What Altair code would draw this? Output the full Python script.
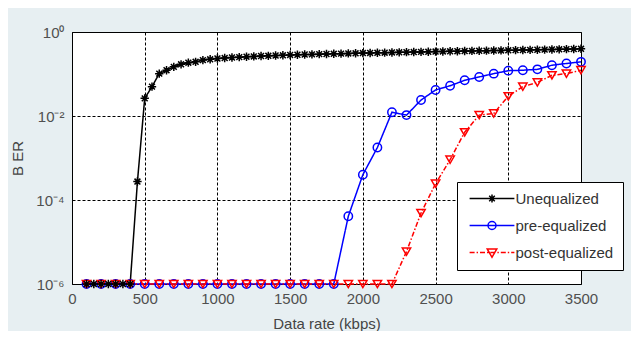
import altair as alt
import pandas as pd

series_names = ["Unequalized", "pre-equalized", "post-equalized"]
series_colors = ["#000000", "#0000FF", "#FF0000"]

x_ticks = [0, 500, 1000, 1500, 2000, 2500, 3000, 3500]
y_ticks = [1e-6, 1e-4, 1e-2, 1]

rate_unequalized = [100, 150, 200, 250, 300, 350, 400, 450, 500, 550, 600, 650, 700, 750,
                    800, 850, 900, 950, 1000, 1050, 1100, 1150, 1200, 1250, 1300, 1350,
                    1400, 1450, 1500, 1550, 1600, 1650, 1700, 1750, 1800, 1850, 1900, 1950,
                    2000, 2050, 2100, 2150, 2200, 2250, 2300, 2350, 2400, 2450, 2500, 2550,
                    2600, 2650, 2700, 2750, 2800, 2850, 2900, 2950, 3000, 3050, 3100, 3150,
                    3200, 3250, 3300, 3350, 3400, 3450, 3500]
ber_unequalized = [1e-6, 1e-6, 1e-6, 1e-6, 1e-6, 1e-6, 1e-6, 2.75e-4, 0.0263, 0.050, 0.102,
                   0.123, 0.148, 0.170, 0.186, 0.195, 0.214, 0.224, 0.234, 0.240, 0.247,
                   0.252, 0.258, 0.262, 0.268, 0.271, 0.276, 0.279, 0.284, 0.287, 0.291,
                   0.293, 0.297, 0.299, 0.303, 0.305, 0.309, 0.311, 0.315, 0.317, 0.320,
                   0.322, 0.326, 0.328, 0.331, 0.333, 0.336, 0.338, 0.342, 0.344, 0.347,
                   0.349, 0.352, 0.354, 0.357, 0.359, 0.362, 0.364, 0.367, 0.370, 0.372,
                   0.375, 0.378, 0.381, 0.384, 0.387, 0.391, 0.394, 0.398]

rate_equalized = [100, 200, 300, 400, 500, 600, 700, 800, 900, 1000, 1100, 1200, 1300, 1400,
                  1500, 1600, 1700, 1800, 1900, 2000, 2100, 2200, 2300, 2400, 2500, 2600,
                  2700, 2800, 2900, 3000, 3100, 3200, 3300, 3400, 3500]
ber_pre = [1e-6, 1e-6, 1e-6, 1e-6, 1e-6, 1e-6, 1e-6, 1e-6, 1e-6, 1e-6, 1e-6, 1e-6, 1e-6,
           1e-6, 1e-6, 1e-6, 1e-6, 1e-6, 4.1e-5, 4.0e-4, 1.78e-3, 0.0123, 0.0105, 0.024,
           0.0417, 0.0525, 0.0708, 0.0851, 0.102, 0.120, 0.123, 0.129, 0.162, 0.178, 0.195]
ber_post = [1e-6, 1e-6, 1e-6, 1e-6, 1e-6, 1e-6, 1e-6, 1e-6, 1e-6, 1e-6, 1e-6, 1e-6, 1e-6,
            1e-6, 1e-6, 1e-6, 1e-6, 1e-6, 1e-6, 1e-6, 1e-6, 1e-6, 5.9e-6, 4.9e-5, 2.45e-4,
            9.1e-4, 4.1e-3, 0.0105, 0.0115, 0.0295, 0.050, 0.063, 0.093, 0.102, 0.123]

# drawing order: pre, post, then unequalized on top
frames = [
    pd.DataFrame({"rate": rate_equalized, "ber": ber_pre, "series": series_names[1]}),
    pd.DataFrame({"rate": rate_equalized, "ber": ber_post, "series": series_names[2]}),
    pd.DataFrame({"rate": rate_unequalized, "ber": ber_unequalized, "series": series_names[0]}),
]
df = pd.concat(frames, ignore_index=True)

FONT = "Liberation Sans"

# marker shapes
star_path = "M-1,0H1M0,-1V1M-0.7,-0.7L0.7,0.7M-0.7,0.7L0.7,-0.7"

# legend symbol paths (line + marker), units scaled by sqrt(symbolSize)/2
HALF = 5.6
def dashdot(half):
    segs = []
    pos = -half
    pattern = [(1.25, True), (0.5, False), (0.35, True), (0.5, False)]
    i = 0
    while pos < half:
        length, draw = pattern[i % 4]
        end = min(pos + length, half)
        if draw:
            segs.append("M%.2f,0H%.2f" % (pos, end))
        pos = end
        i += 1
    return "".join(segs)

legend_paths = [
    "M-%.1f,0H%.1f" % (HALF, HALF) + "M-1,0H1M0,-1V1M-0.7,-0.7L0.7,0.7M-0.7,0.7L0.7,-0.7",
    "M-%.1f,0H%.1f" % (HALF, HALF) + "M1,0A1,1,0,1,1,-1,0A1,1,0,1,1,1,0Z",
    dashdot(HALF) + "M-1.2,-0.9H1.2L0,1.2Z",
]

x_scale = alt.Scale(domain=[0, 3500], nice=False, zero=False)
y_scale = alt.Scale(type="log", domain=[1e-6, 1], nice=False)

x_axis = alt.Axis(values=x_ticks, format="d", title="Data rate (kbps)",
                  grid=True, gridColor="black", gridDash=[3, 2], gridOpacity=1, gridWidth=1,
                  domain=False, ticks=False, labelPadding=7, labelFontSize=15,
                  labelFlush=False, labelOverlap=False,
                  labelColor="#505050", labelFont=FONT, titleFont=FONT, titleFontSize=15,
                  titleFontWeight="normal", titleColor="#444444", titlePadding=10)
y_axis = alt.Axis(values=y_ticks, title="B ER",
                  labelExpr="datum.value > 0.1 ? '10⁰' : datum.value > 0.001 ? '10⁻²' : datum.value > 0.00001 ? '10⁻⁴' : '10⁻⁶'",
                  grid=True, gridColor="black", gridDash=[3, 2], gridOpacity=1, gridWidth=1,
                  domain=False, ticks=False, labelPadding=8, labelFontSize=15,
                  labelFlush=False, labelOverlap=False,
                  labelColor="#505050", labelFont=FONT, titleFont=FONT, titleFontSize=15,
                  titleFontWeight="normal", titleColor="#444444", titlePadding=10)

color_scale = alt.Scale(domain=series_names, range=series_colors)

lines = alt.Chart(df).mark_line(strokeWidth=1.5, clip=False).encode(
    x=alt.X("rate:Q", scale=x_scale, axis=x_axis),
    y=alt.Y("ber:Q", scale=y_scale, axis=y_axis),
    color=alt.Color("series:N", scale=color_scale, legend=None),
    strokeDash=alt.StrokeDash("series:N",
                              scale=alt.Scale(domain=series_names,
                                              range=[[1, 0], [1, 0], [5, 2, 1.5, 2]]),
                              legend=None),
)

points = alt.Chart(df).mark_point(filled=False, size=70, strokeWidth=1.5, opacity=1, clip=False).encode(
    x="rate:Q",
    y="ber:Q",
    color=alt.Color("series:N", scale=color_scale, legend=None),
    shape=alt.Shape("series:N",
                    scale=alt.Scale(domain=series_names, range=[star_path, "circle", "triangle-down"]),
                    legend=None),
)

legend_def = dict(title=None, orient="none", legendX=385, legendY=150,
                  symbolSize=64, symbolStrokeWidth=1.5, symbolOpacity=1,
                  symbolFillColor="transparent", symbolOffset=18.5, labelOffset=16,
                  padding=9, rowPadding=11, fillColor="white", strokeColor="black",
                  labelFont=FONT, labelFontSize=15, labelColor="#333333", cornerRadius=0)

legend_layer = alt.Chart(df).mark_point(filled=False, opacity=0).encode(
    x="rate:Q",
    y="ber:Q",
    color=alt.Color("series:N", scale=color_scale, legend=alt.Legend(**legend_def)),
    shape=alt.Shape("series:N", scale=alt.Scale(domain=series_names, range=legend_paths),
                    legend=alt.Legend(**legend_def)),
)

chart = alt.layer(lines, points, legend_layer).resolve_scale(
    color="independent", shape="independent"
).properties(
    width=509, height=252, background="#E7EFF2",
    padding={"left": 64, "top": 24, "right": 50, "bottom": 47},
    autosize=alt.AutoSizeParams(type="none"),
).configure_view(fill="white", stroke="black", strokeWidth=1)

chart.save("out.html", embed_options={"renderer": "svg", "actions": False})
